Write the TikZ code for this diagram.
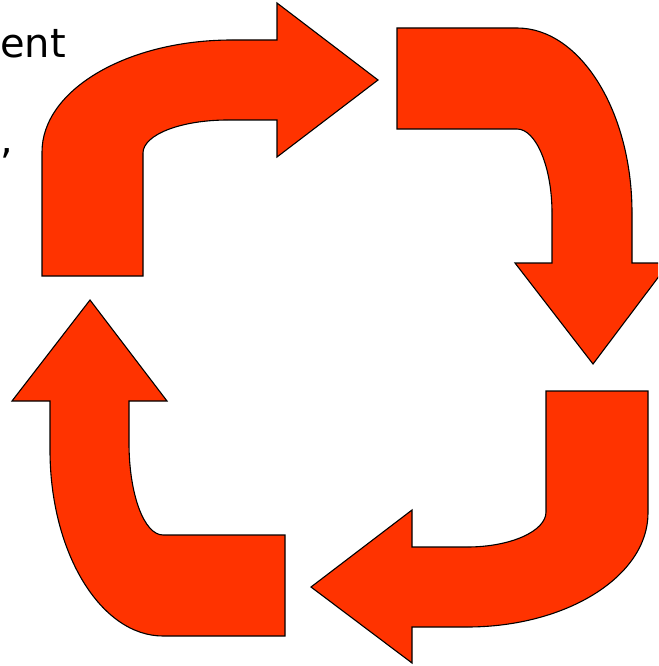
\documentclass[tikz,border=0pt]{standalone}
\usepackage{fontspec}
\newfontfamily\slidefont{DejaVu Sans}
\definecolor{arrowred}{HTML}{FF3300}
\tikzset{
  bentarrow/.style={fill=arrowred, draw=black, line width=1.1pt, line join=miter},
  slidetext/.style={font=\slidefont\fontsize{40}{48}\selectfont, text=black, inner sep=0pt, anchor=base west}
}
\begin{document}
\begin{tikzpicture}[x=1pt,y=-1pt]
\useasboundingbox (0,0) rectangle (658,666);
\clip (0,0) rectangle (658,666);
% text fragments
\node[slidetext] (t1) at (0,58) {ent};
\node[slidetext] (t2) at (0,153) {,};
% arrow 1: right-pointing (top left)
\path[bentarrow] (42,276) -- (42,152)
  .. controls (42,90) and (127,40) .. (232,40)
  -- (277,40) -- (277,3) -- (378,80) -- (277,157) -- (277,120) -- (228,120)
  .. controls (180,120) and (143,135) .. (143,153)
  -- (143,276) -- cycle;
% arrow 2: down-pointing (top right)
\path[bentarrow] (397,28) -- (517,28)
  .. controls (580,28) and (632,111) .. (632,213)
  -- (632,263) -- (669,263) -- (593,364) -- (515,263) -- (552,263) -- (552,213)
  .. controls (552,167) and (536,129) .. (517,129)
  -- (397,129) -- cycle;
% arrow 3: left-pointing (bottom right)
\path[bentarrow] (546,391) -- (648,391) -- (648,513)
  .. controls (648,576) and (567,627) .. (467,627)
  -- (412,627) -- (412,663) -- (311,587) -- (412,510) -- (412,547) -- (467,547)
  .. controls (511,547) and (546,531) .. (546,512)
  -- cycle;
% arrow 4: up-pointing (bottom left)
\path[bentarrow] (285,535) -- (163,535)
  .. controls (144,535) and (129,494) .. (129,443)
  -- (129,401) -- (167,401) -- (90,300) -- (12,401) -- (50,401) -- (50,450)
  .. controls (50,553) and (101,636) .. (163,636)
  -- (285,636) -- cycle;
\end{tikzpicture}
\end{document}
